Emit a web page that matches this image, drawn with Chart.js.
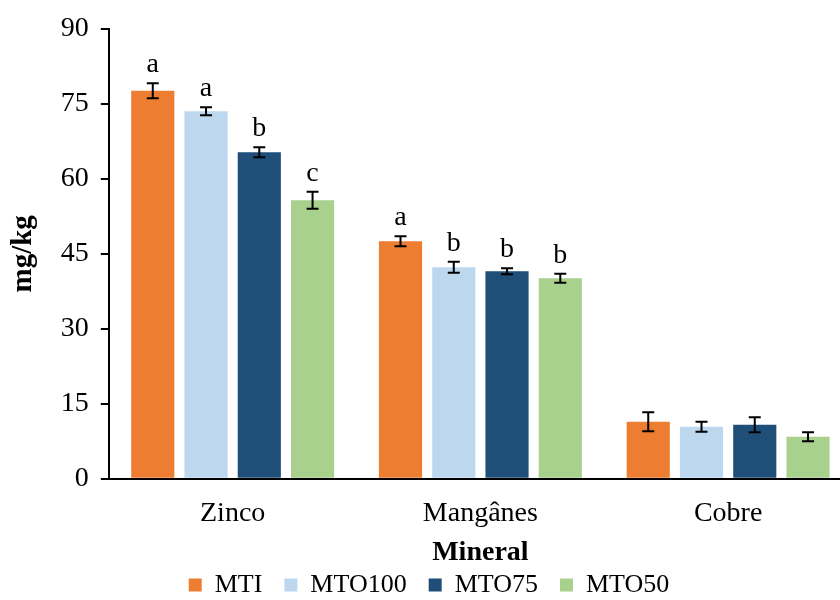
<!DOCTYPE html>
<html>
<head>
<meta charset="utf-8">
<script src="https://cdn.jsdelivr.net/npm/chart.js@4/dist/chart.umd.min.js"></script>
<style>
  html, body { margin: 0; padding: 0; background: #fff; overflow: hidden; }
  #wrap { width: 840px; height: 600px; overflow: hidden; }
  /* canvas is a bit larger than the view: the plot runs off the right edge like the original */
  #chart { display: block; }
</style>
</head>
<body>
<div id="wrap"><canvas id="chart" width="852" height="608"></canvas></div>
<script>
const categories = ["Zinco", "Mangânes", "Cobre"];
const seriesNames = ["MTI", "MTO100", "MTO75", "MTO50"];
const colors = ["#ED7D31", "#BDD7EE", "#1F4E79", "#A9D18E"];

const mti = [77.6, 47.5, 11.4];
const mto100 = [73.5, 42.3, 10.4];
const mto75 = [65.3, 41.5, 10.8];
const mto50 = [55.7, 40.1, 8.4];

const errMti = [1.5, 1.0, 1.9];
const errMto100 = [0.8, 1.1, 1.0];
const errMto75 = [1.0, 0.6, 1.5];
const errMto50 = [1.7, 0.9, 0.9];

const lettersMti = ["a", "a", ""];
const lettersMto100 = ["a", "b", ""];
const lettersMto75 = ["b", "b", ""];
const lettersMto50 = ["c", "b", ""];

const yTicks = [0, 15, 30, 45, 60, 75, 90];

const values = [mti, mto100, mto75, mto50];
const errors = [errMti, errMto100, errMto75, errMto50];
const letters = [lettersMti, lettersMto100, lettersMto75, lettersMto50];

const FONT = "'Liberation Serif', 'Times New Roman', serif";

// error bars + significance letters
const errorBarPlugin = {
  id: "errorBars",
  afterDatasetsDraw(chart) {
    const ctx = chart.ctx;
    const y = chart.scales.y;
    ctx.save();
    chart.data.datasets.forEach((ds, i) => {
      const meta = chart.getDatasetMeta(i);
      meta.data.forEach((bar, j) => {
        const v = ds.data[j];
        const e = errors[i][j];
        const top = y.getPixelForValue(v + e);
        const bot = y.getPixelForValue(v - e);
        const x = bar.x;
        ctx.strokeStyle = "#000";
        ctx.lineWidth = 2;
        ctx.beginPath();
        ctx.moveTo(x, top); ctx.lineTo(x, bot);
        ctx.moveTo(x - 6, top); ctx.lineTo(x + 6, top);
        ctx.moveTo(x - 6, bot); ctx.lineTo(x + 6, bot);
        ctx.stroke();
        const l = letters[i][j];
        if (l) {
          ctx.fillStyle = "#000";
          ctx.font = "28px " + FONT;
          ctx.textAlign = "center";
          ctx.textBaseline = "alphabetic";
          ctx.fillText(l, x, top - 11);
        }
      });
    });
    ctx.restore();
  }
};

new Chart(document.getElementById("chart").getContext("2d"), {
  type: "bar",
  data: {
    labels: categories,
    datasets: seriesNames.map((name, i) => ({
      label: name,
      data: values[i],
      backgroundColor: colors[i],
      borderWidth: 0,
      barPercentage: 0.81,
      categoryPercentage: 0.86,
    })),
  },
  options: {
    responsive: false,
    animation: false,
    layout: { padding: { top: 16, right: 0, left: 6, bottom: 0 } },
    scales: {
      x: {
        grid: { display: false },
        border: { display: true, color: "#000", width: 2 },
        ticks: { color: "#000", font: { family: FONT, size: 28 }, padding: 10 },
        title: {
          display: true,
          text: "Mineral",
          color: "#000",
          font: { family: FONT, size: 28, weight: "bold" },
          padding: { top: -4, bottom: -20 },
        },
      },
      y: {
        min: 0,
        max: 90,
        afterBuildTicks: (axis) => { axis.ticks = yTicks.map((v) => ({ value: v })); },
        grid: { display: true, drawOnChartArea: false, drawTicks: true, tickLength: 8, color: "#000", lineWidth: 2 },
        border: { display: true, color: "#000", width: 2 },
        ticks: { color: "#000", font: { family: FONT, size: 28 }, padding: 12 },
        title: {
          display: true,
          text: "mg/kg",
          color: "#000",
          font: { family: FONT, size: 29, weight: "bold" },
          padding: { top: 0, bottom: 8 },
        },
      },
    },
    plugins: {
      legend: {
        position: "bottom",
        labels: {
          color: "#000",
          font: { family: FONT, size: 26 },
          boxWidth: 13,
          boxHeight: 13,
          padding: 22,
        },
      },
      tooltip: { enabled: false },
    },
  },
  plugins: [errorBarPlugin],
});
</script>
</body>
</html>
